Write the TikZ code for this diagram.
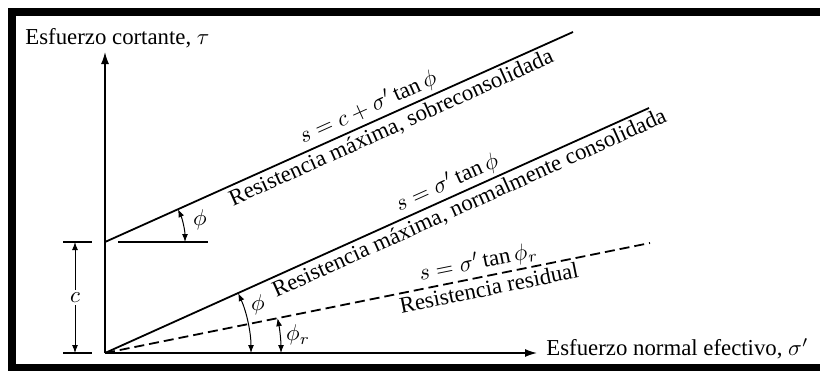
\RequirePackage{fix-cm}
\documentclass[tikz,border=0pt]{standalone}
\usepackage{fontspec}
\setmainfont{Liberation Serif}
\usetikzlibrary{arrows.meta}
\tikzset{
  axis/.style  = {-{Latex[length=6pt,width=4pt]}, draw=black, line width=0.7pt},
  envl/.style  = {draw=black, line width=0.9pt},
  envd/.style  = {draw=black, line width=0.9pt, dash pattern=on 5pt off 2.5pt},
  refl/.style  = {draw=black, line width=0.6pt},
  dim/.style   = {{Latex[length=4pt,width=3pt]}-{Latex[length=4pt,width=3pt]},
                  draw=black, line width=0.5pt},
  lab/.style   = {font=\fontsize{11.4}{13}\selectfont, inner sep=1.5pt},
}

\begin{document}
\begin{tikzpicture}[x=0.5pt, y=0.5pt]
  \useasboundingbox (0,0) rectangle (820,371);
  % frame
  \fill[black] (8,355) rectangle (820,363);
  \fill[black] (8,0) rectangle (16,363);
  \fill[black] (8,0) rectangle (820,7);

  % axes
  \coordinate (O)    at (105,18);
  \coordinate (C)    at (105,129);
  \coordinate (ytip) at (105,319);
  \coordinate (xtip) at (537,18);
  \draw[axis] (O) -- (ytip);
  \draw[axis] (O) -- (xtip);
  \node[lab, anchor=west] (ylab) at (22,333) {Esfuerzo cortante, $\tau$};
  \node[lab, anchor=west] (xlab) at (543,22) {Esfuerzo normal efectivo, $\sigma'$};

  % envelopes
  \coordinate (Aend) at (573,339);
  \coordinate (Bend) at (649,263);
  \coordinate (Dend) at (650,128);
  \draw[envl] (C) -- (Aend)
    node[lab, pos=0.575, sloped, above] (eqA) {$s = c + \sigma'\tan\phi$}
    node[lab, pos=0.6, sloped, below] (txtA) {Resistencia máxima, sobreconsolidada};
  \draw[envl] (O) -- (Bend)
    node[lab, pos=0.64, sloped, above] (eqB) {$s = \sigma'\tan\phi$}
    node[lab, pos=0.66, sloped, below] (txtB) {Resistencia máxima, normalmente consolidada};
  \draw[envd] (O) -- (Dend)
    node[lab, pos=0.69, sloped, above] (eqD) {$s = \sigma'\tan\phi_r$}
    node[lab, pos=0.70, sloped, below] (txtD) {Resistencia residual};

  % c offset
  \coordinate (r1) at (118,129);
  \coordinate (r2) at (208,129);
  \draw[refl] (r1) -- (r2);
  \coordinate (t1a) at (63,129);
  \coordinate (t1b) at (92,129);
  \coordinate (t2a) at (63,18);
  \coordinate (t2b) at (92,18);
  \draw[refl] (t1a) -- (t1b);
  \draw[refl] (t2a) -- (t2b);
  \coordinate (ctop) at (75,129);
  \coordinate (cbot) at (75,18);
  \draw[dim] (ctop) -- (cbot) node[lab, midway, fill=white] (clab) {$c$};

  % angles
  \draw[dim] (185,129) arc[start angle=0, end angle=24.2, radius=80];
  \node[lab] (phiA) at (200,151) {$\phi$};
  \draw[dim] (251,18) arc[start angle=0, end angle=24.2, radius=146];
  \node[lab] (phiB) at (258,66) {$\phi$};
  \draw[dim] (281,18) arc[start angle=0, end angle=11.4, radius=176];
  \node[lab] (phiD) at (298,36) {$\phi_r$};
\end{tikzpicture}
\end{document}
